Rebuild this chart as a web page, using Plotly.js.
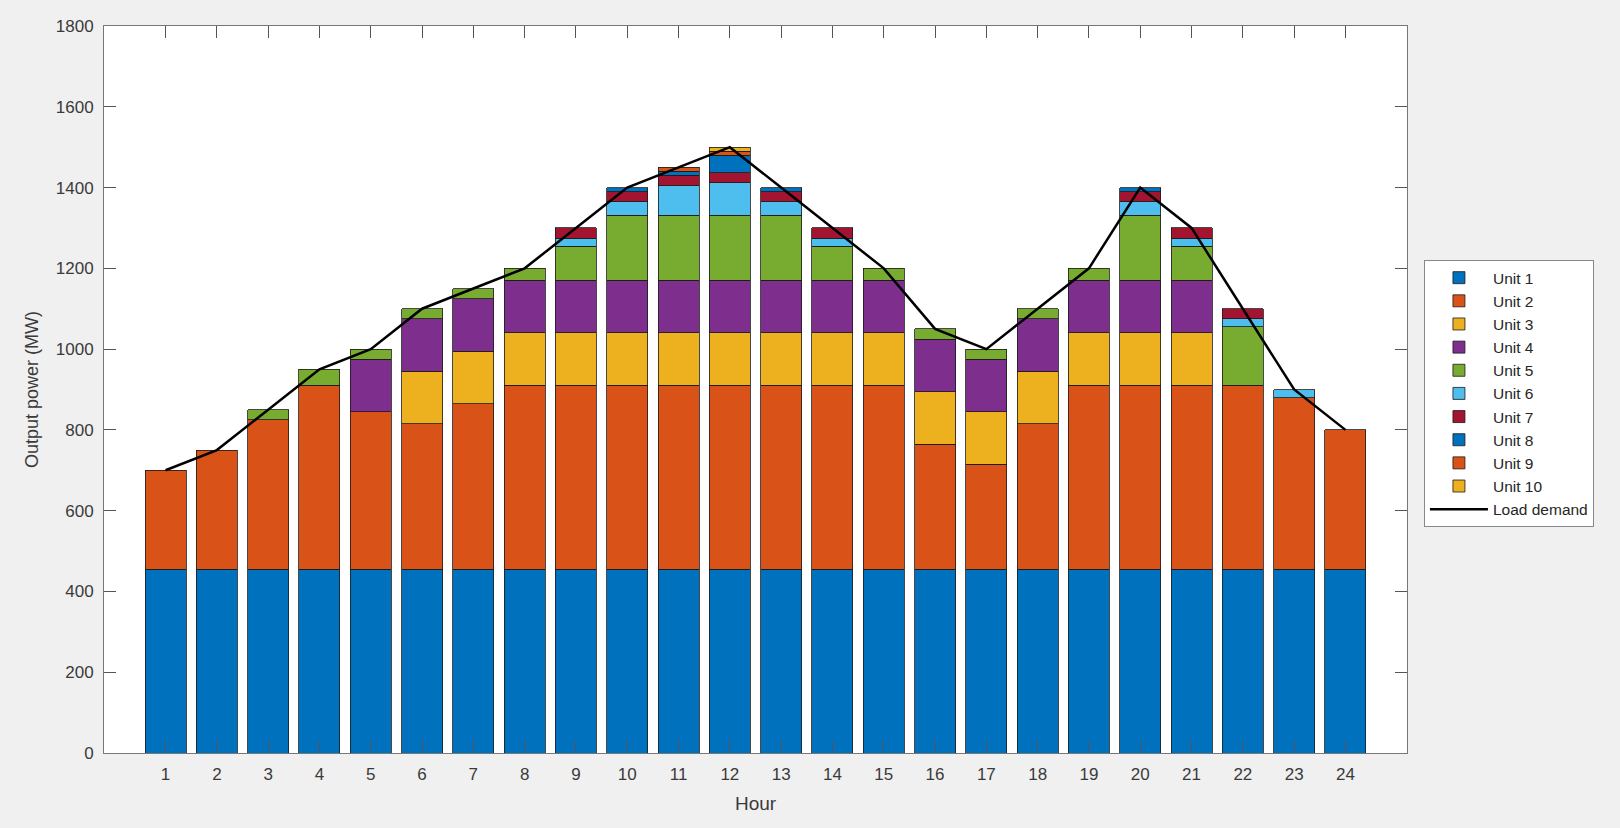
<!DOCTYPE html>
<html>
<head>
<meta charset="utf-8">
<script src="https://cdn.plot.ly/plotly-3.0.1.min.js"></script>
<style>html,body{margin:0;padding:0;background:#f0f0f0;}#chart{width:1620px;height:828px;}</style>
</head>
<body>
<div id="chart"></div>
<script>
const hours = [1,2,3,4,5,6,7,8,9,10,11,12,13,14,15,16,17,18,19,20,21,22,23,24];
const loadDemand = [700,750,850,950,1000,1100,1150,1200,1300,1400,1450,1500,1400,1300,1200,1050,1000,1100,1200,1400,1300,1100,900,800];
const unit1  = [455,455,455,455,455,455,455,455,455,455,455,455,455,455,455,455,455,455,455,455,455,455,455,455];
const unit2  = [245,295,370,455,390,360,410,455,455,455,455,455,455,455,455,310,260,360,455,455,455,455,425,345];
const unit3  = [0,0,0,0,0,130,130,130,130,130,130,130,130,130,130,130,130,130,130,130,130,0,0,0];
const unit4  = [0,0,0,0,130,130,130,130,130,130,130,130,130,130,130,130,130,130,130,130,130,0,0,0];
const unit5  = [0,0,25,40,25,25,25,30,85,162,162,162,162,85,30,25,25,25,30,162,85,145,0,0];
const unit6  = [0,0,0,0,0,0,0,0,20,33,73,80,33,20,0,0,0,0,0,33,20,20,20,0];
const unit7  = [0,0,0,0,0,0,0,0,25,25,25,25,25,25,0,0,0,0,0,25,25,25,0,0];
const unit8  = [0,0,0,0,0,0,0,0,0,10,10,43,10,0,0,0,0,0,0,10,0,0,0,0];
const unit9  = [0,0,0,0,0,0,0,0,0,0,10,10,0,0,0,0,0,0,0,0,0,0,0,0];
const unit10 = [0,0,0,0,0,0,0,0,0,0,0,10,0,0,0,0,0,0,0,0,0,0,0,0];
const unitNames = ['Unit 1','Unit 2','Unit 3','Unit 4','Unit 5','Unit 6','Unit 7','Unit 8','Unit 9','Unit 10'];
const unitColors = ['#0072BD','#D95319','#EDB120','#7E2F8E','#77AC30','#4DBEEE','#A2142F','#0072BD','#D95319','#EDB120'];
const units = [unit1,unit2,unit3,unit4,unit5,unit6,unit7,unit8,unit9,unit10];

const font = {family:'Liberation Sans, Arial, sans-serif', color:'#262626'};
const traces = units.map((u,i)=>({
  type:'bar', x:hours, y:u.map(v=>v===0?null:v), name:unitNames[i],
  width:0.8,
  marker:{color:unitColors[i], line:{color:'#1a1a1a', width:0.8}},
  hoverinfo:'x+y+name'
}));
traces.push({
  type:'scatter', mode:'lines', x:hours, y:loadDemand, name:'Load demand',
  line:{color:'#000000', width:2.5}
});

const axisCommon = {
  showline:true, linecolor:'#777', linewidth:1, mirror:'ticks',
  ticks:'inside', ticklen:12, tickcolor:'#555', tickwidth:1,
  showgrid:false, zeroline:false,
  tickfont:Object.assign({}, font, {size:17, color:'#3a3a3a'})
};
const layout = {
  width:1620, height:828,
  paper_bgcolor:'#f0f0f0', plot_bgcolor:'#ffffff',
  margin:{l:104, r:213, t:26, b:75},
  barmode:'stack', bargap:0.2,
  font:font,
  xaxis:Object.assign({}, axisCommon, {
    range:[-0.2,25.2], tickmode:'array', tickvals:hours, ticktext:hours.map(String),
    ticklabelstandoff:6,
    title:{text:'Hour', font:Object.assign({}, font, {size:19, color:'#3a3a3a'}), standoff:13}
  }),
  yaxis:Object.assign({}, axisCommon, {
    range:[0,1800], dtick:200, tick0:0,
    ticklabelstandoff:6,
    title:{text:'Output power (MW)', font:Object.assign({}, font, {size:18, color:'#3a3a3a'}), standoff:12}
  }),
  legend:{
    x:1.013, y:0.678, xanchor:'left', yanchor:'top',
    bgcolor:'#ffffff', bordercolor:'#888', borderwidth:1,
    font:Object.assign({}, font, {size:15.5, color:'#262626'}),
    traceorder:'normal', tracegroupgap:0, itemwidth:58
  },
  showlegend:true
};
Plotly.newPlot('chart', traces, layout, {displayModeBar:false, staticPlot:true});
</script>
</body>
</html>
